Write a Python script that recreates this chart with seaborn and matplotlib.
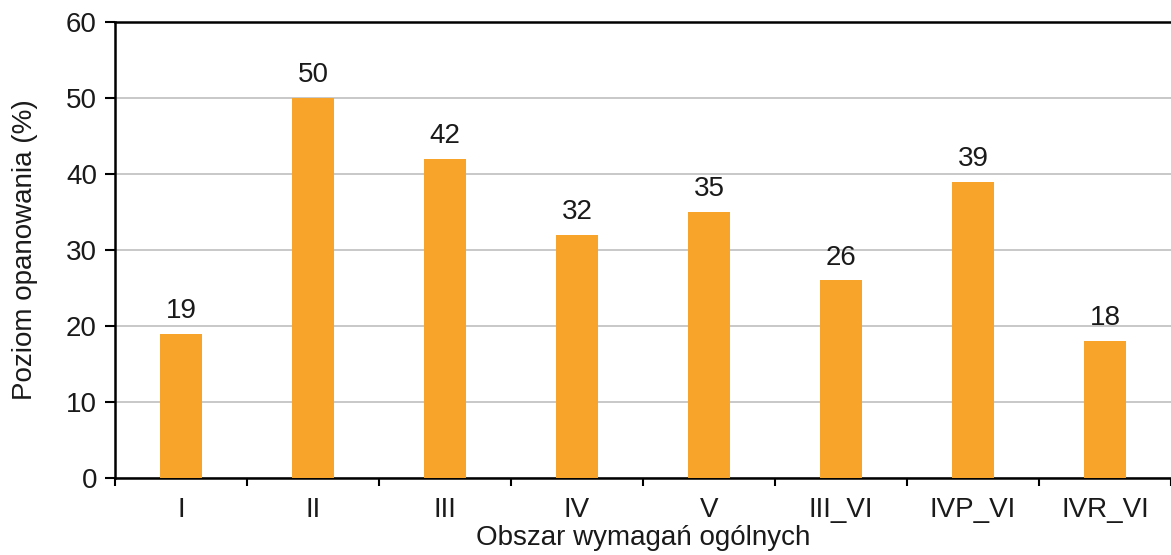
import seaborn as sns
import pandas as pd
import matplotlib.pyplot as plt
import numpy as np

categories = ['I', 'II', 'III', 'IV', 'V', 'III_VI', 'IVP_VI', 'IVR_VI']
values = [19, 50, 42, 32, 35, 26, 39, 18]

df = pd.DataFrame({'Obszar': categories, 'Poziom': values})

sns.set_theme(style='white')
plt.rcParams['font.family'] = ['Liberation Sans', 'DejaVu Sans']

fig = plt.figure(figsize=(11.71, 5.55), dpi=100)
ax = fig.add_axes([0.0982, 0.1387, 0.9018, 0.8217])

sns.barplot(data=df, x='Obszar', y='Poziom', color='#F8A42A', saturation=1,
            width=0.32, edgecolor='none', linewidth=0, ax=ax, zorder=3)

ax.set_ylim(0, 60)
ax.set_xlim(-0.5, len(categories) - 0.5)
ax.set_yticks(np.arange(0, 61, 10))
ax.yaxis.grid(True, color='#BFBFBF', linewidth=1.2, zorder=0)
ax.set_axisbelow(True)

fs = 20
for i, v in enumerate(values):
    ax.text(i, v + 1.3, str(v), ha='center', va='bottom', fontsize=fs, color='#1a1a1a')

for s in ['left', 'bottom', 'top']:
    ax.spines[s].set_color('black')
    ax.spines[s].set_linewidth(1.8)
ax.spines['right'].set_visible(False)

ax.tick_params(axis='y', direction='out', length=7, width=1.5, color='black',
               labelsize=fs, left=True, pad=6, labelcolor='#1a1a1a')
ax.tick_params(axis='x', which='major', length=0, labelsize=fs, pad=14,
               labelcolor='#1a1a1a')
ax.set_xticks(np.arange(-0.5, len(categories), 1), minor=True)
ax.tick_params(axis='x', which='minor', direction='out', length=6, width=1.5,
               color='black', bottom=True)

ax.set_xlabel('Obszar wymagań ogólnych', fontsize=fs, labelpad=1, color='#1a1a1a')
ax.set_ylabel('Poziom opanowania (%)', fontsize=fs, labelpad=20, color='#1a1a1a')

fig.savefig('out.png', dpi=100)
